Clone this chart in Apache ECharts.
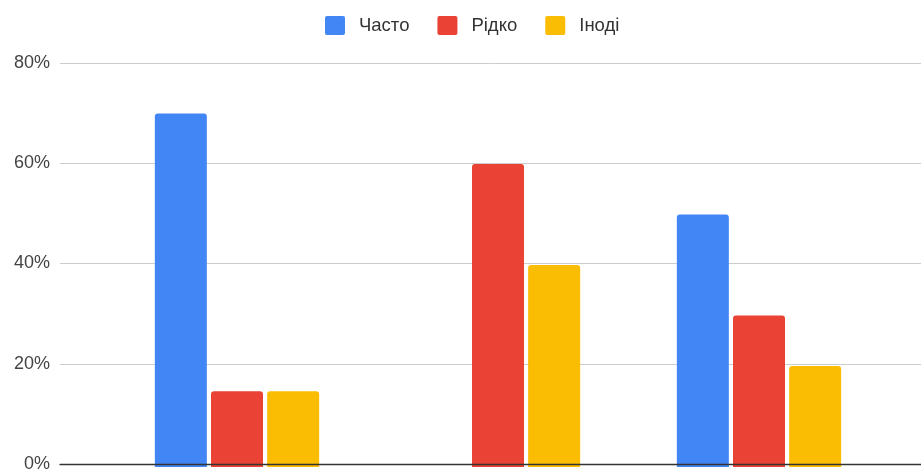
<!DOCTYPE html>
<html>
<head>
<meta charset="utf-8">
<script src="https://cdn.jsdelivr.net/npm/echarts@6/dist/echarts.min.js"></script>
<style>html,body{margin:0;padding:0;background:#fff;}#c{width:921px;height:473px;}</style>
</head>
<body>
<div id="c"></div>
<script>
const categories = ['Група 1', 'Група 2', 'Група 3'];
const seriesNames = ['Часто', 'Рідко', 'Іноді'];
const often = [70, 0, 50];
const rarely = [15, 60, 30];
const sometimes = [15, 40, 20];
const yTicks = [0, 20, 40, 60, 80];
const colors = ['#4285F4', '#EA4335', '#FBBC04'];

const chart = echarts.init(document.getElementById('c'), null, {renderer: 'canvas'});
const font = '"Liberation Sans", Arial, sans-serif';
const values = [often, rarely, sometimes];
chart.setOption({
  animation: false,
  color: colors,
  textStyle: {fontFamily: font},
  legend: {
    top: 11, left: 320,
    itemWidth: 20, itemHeight: 19, itemGap: 28,
    icon: 'path://M2,0 L18,0 Q20,0 20,2 L20,17 Q20,19 18,19 L2,19 Q0,19 0,17 L0,2 Q0,0 2,0 Z',
    textStyle: {fontSize: 18.5, color: '#333', fontFamily: font, padding: [0, 0, 0, 9]},
    data: seriesNames
  },
  grid: [
    {left: 106.5, right: 31.5, top: 63, bottom: 6},
    {left: 60, right: 0, top: 63, bottom: 6}
  ],
  xAxis: [
    {type: 'category', gridIndex: 0, data: categories, show: false},
    {type: 'value', gridIndex: 1, min: 0, max: 1, z: 10,
     axisLine: {show: true, lineStyle: {color: '#333', width: 1.3}},
     axisTick: {show: false}, axisLabel: {show: false}, splitLine: {show: false}}
  ],
  yAxis: [
    {type: 'value', gridIndex: 0, min: yTicks[0], max: yTicks[yTicks.length-1], interval: 20, show: false},
    {type: 'value', gridIndex: 1, min: yTicks[0], max: yTicks[yTicks.length-1], interval: 20,
     axisLine: {show: false}, axisTick: {show: false},
     axisLabel: {formatter: '{value}%', fontSize: 18, color: '#444', margin: 10, fontFamily: font},
     splitLine: {lineStyle: {color: '#ccc', width: 1}}}
  ],
  series: seriesNames.map((n, i) => ({
    name: n, type: 'bar', xAxisIndex: 0, yAxisIndex: 0,
    data: values[i], barWidth: 52, barGap: '8%',
    itemStyle: {borderRadius: [3, 3, 0, 0]}
  }))
});
</script>
</body>
</html>
